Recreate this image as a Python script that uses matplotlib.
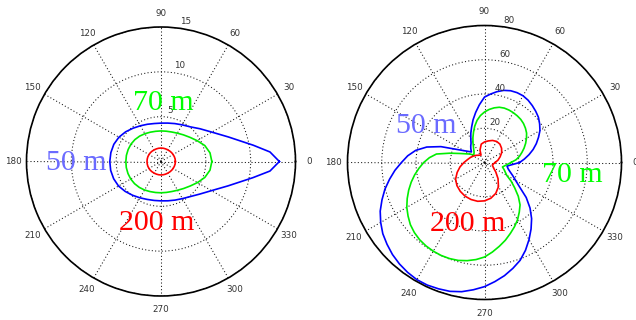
import numpy as np
import matplotlib.pyplot as plt

# ---- left panel, radial range 0..15 ----
left_rings = [5, 10, 15]
left_theta_50 = [0, 5, 10, 20, 30, 40, 50, 60, 70, 80, 90, 100, 110, 120, 130, 140, 150, 160, 170,
                 180, 190, 200, 210, 220, 230, 240, 250, 260, 270, 280, 290, 300, 310, 320, 330,
                 340, 350, 355]
left_r_50 = [13.2, 12.2, 10.45, 8.0, 6.55, 5.68, 5.05, 4.72, 4.5, 4.35, 4.28, 4.3, 4.42, 4.6, 4.85,
             5.15, 5.42, 5.6, 5.68, 5.71, 5.7, 5.62, 5.47, 5.2, 4.92, 4.68, 4.5, 4.41, 4.39, 4.45,
             4.58, 4.78, 5.1, 5.65, 6.5, 7.95, 10.4, 12.2]
left_theta = list(range(0, 360, 10))
left_r_70 = [5.67, 5.55, 5.2, 4.65, 4.2, 3.88, 3.65, 3.5, 3.43, 3.41, 3.42, 3.48, 3.58, 3.7, 3.8,
             3.87, 3.9, 3.92, 3.92, 3.93, 3.92, 3.9, 3.85, 3.77, 3.67, 3.57, 3.51, 3.49, 3.5,
             3.56, 3.7, 3.93, 4.25, 4.7, 5.2, 5.55]
left_r_200 = [1.6, 1.6, 1.58, 1.56, 1.54, 1.52, 1.5, 1.5, 1.5, 1.5, 1.5, 1.5, 1.5, 1.52, 1.54,
              1.55, 1.56, 1.56, 1.56, 1.56, 1.56, 1.55, 1.54, 1.52, 1.5, 1.5, 1.5, 1.5, 1.5,
              1.5, 1.5, 1.52, 1.54, 1.56, 1.58, 1.6]

# ---- right panel, radial range 0..80 ----
right_rings = [20, 40, 60, 80]
right_theta_50 = [0, 5, 10, 15, 20, 25, 30, 35, 40, 45, 50, 55, 60, 65, 70, 75, 80, 85, 90, 95,
                  100, 105, 110, 115, 120, 125, 130, 135, 141, 145, 150, 155, 160, 165, 170, 175,
                  180, 185, 190, 195, 200, 205, 210, 215, 220, 225, 230, 235, 240, 245, 250, 255,
                  260, 265, 270, 275, 280, 285, 290, 295, 300, 305, 310, 315, 320, 325, 330, 335,
                  340, 345, 351]
right_r_50 = [20.5, 23.4, 26.4, 29.4, 32.2, 34.8, 37.4, 39.3, 41.1, 42.3, 43.4, 44.4, 45.0, 45.0,
              44.6, 43.6, 42.0, 40.1, 38.2, 33.9, 29.7, 25.8, 22.0, 18.9, 16.0, 13.7, 12.5, 11.3,
              9.8, 11.2, 13.8, 18.2, 27.1, 34.9, 40.8, 45.0, 48.5, 52.5, 56.3, 60.2, 63.7, 67.2,
              70.0, 72.5, 74.3, 76.0, 77.3, 78.3, 79.0, 79.0, 78.5, 77.9, 76.6, 74.6, 72.5, 69.8,
              67.1, 64.0, 60.8, 56.6, 52.0, 47.4, 42.8, 37.6, 31.8, 25.1, 21.0, 18.2, 15.9, 14.3,
              13.3]
right_theta_70 = [0, 5, 10, 15, 20, 25, 30, 35, 40, 45, 50, 55, 60, 65, 70, 75, 80, 85, 90, 95,
                  100, 105, 110, 115, 120, 125, 130, 135, 145, 150, 155, 160, 165, 170, 175, 180,
                  185, 190, 195, 200, 205, 210, 215, 220, 225, 230, 235, 240, 245, 250, 255, 260,
                  265, 270, 275, 280, 285, 290, 295, 300, 305, 310, 315, 320, 325, 330, 335, 340,
                  346]
right_r_70 = [15.5, 18.5, 20.7, 22.6, 24.6, 26.5, 28.3, 30.0, 31.2, 32.2, 32.9, 33.3, 33.6, 33.8,
              33.8, 33.4, 32.4, 31.1, 29.5, 27.5, 25.0, 22.0, 18.8, 16.0, 13.5, 11.3, 9.8, 8.6,
              7.6, 9.9, 12.0, 15.4, 21.0, 28.5, 32.3, 35.5, 38.4, 41.4, 44.3, 47.1, 49.8, 52.4,
              54.5, 56.5, 57.9, 58.9, 59.5, 59.8, 59.9, 59.7, 59.2, 58.2, 56.9, 55.2, 52.5, 49.7,
              47.0, 44.1, 41.4, 38.6, 35.4, 32.3, 27.9, 23.0, 19.0, 15.0, 13.4, 12.2, 10.8]
right_theta_200 = [0, 10, 20, 30, 40, 50, 60, 70, 80, 90, 100, 110, 115, 120, 130, 140, 150, 160,
                   170, 180, 190, 200, 210, 220, 230, 240, 250, 260, 270, 280, 290, 300, 310, 320,
                   330, 340, 345, 350]
right_r_200 = [6.2, 8.0, 9.7, 11.6, 13.0, 14.0, 14.2, 13.7, 12.8, 12.0, 10.9, 7.7, 4.8, 5.0, 5.5,
               6.5, 7.5, 8.7, 10.0, 12.0, 14.5, 17.0, 19.5, 21.0, 22.0, 22.7, 23.0, 23.0, 22.4,
               21.2, 19.2, 16.3, 12.3, 8.6, 6.0, 5.0, 4.8, 5.2]

W, H = 636, 320
fig = plt.figure(figsize=(W / 100, H / 100), dpi=100)


def polar_panel(cx, cy, R, rings):
    rmax = rings[-1]
    ax = fig.add_axes([(cx - R) / W, 1 - (cy + R) / H, 2 * R / W, 2 * R / H], projection='polar')
    ax.set_ylim(0, rmax)
    ax.set_xticks(np.deg2rad(np.arange(0, 360, 30)))
    ax.set_xticklabels([])
    ax.set_yticks(rings)
    ax.set_yticklabels([])
    ax.tick_params(length=0)
    ax.grid(True, color='#111111', linestyle=(0, (1, 2.2)), linewidth=0.75)
    ax.spines['polar'].set_linewidth(1.2)
    for a in range(0, 360, 30):
        ax.text(np.deg2rad(a), 1.1 * rmax, str(a), ha='center', va='center',
                fontsize=6.3, color='#333333', clip_on=False)
    for r in rings:
        ax.text(np.deg2rad(82), r + (rings[1] - rings[0]) / 20, str(r), ha='left', va='bottom',
                fontsize=6.3, color='#333333', clip_on=False)
    return ax


def curve(ax, theta, r, color):
    t = np.deg2rad(np.append(theta, theta[0]))
    ax.plot(t, np.append(r, r[0]), color=color, lw=1.2)


ax1 = polar_panel(161, 161.5, 134.5, left_rings)
curve(ax1, left_theta_50, left_r_50, '#0000ff')
curve(ax1, left_theta, left_r_70, '#00ee00')
curve(ax1, left_theta, left_r_200, '#ff0000')

ax2 = polar_panel(484.5, 162.5, 137, right_rings)
curve(ax2, right_theta_50, right_r_50, '#0000ff')
curve(ax2, right_theta_70, right_r_70, '#00ee00')
curve(ax2, right_theta_200, right_r_200, '#ff0000')

lab = dict(fontsize=21.5, family='Liberation Serif', ha='center', va='baseline')
fig.text(163 / W, 1 - 110 / H, '70 m', color='#00ff00', **lab)
fig.text(76 / W, 1 - 170 / H, '50 m', color='#6b6bff', **lab)
fig.text(157 / W, 1 - 230 / H, '200 m', color='#ff0000', **lab)
fig.text(426 / W, 1 - 133 / H, '50 m', color='#6b6bff', **lab)
fig.text(572 / W, 1 - 182 / H, '70 m', color='#00ff00', **lab)
fig.text(468 / W, 1 - 231 / H, '200 m', color='#ff0000', **lab)

fig.savefig('out.png', dpi=100)
